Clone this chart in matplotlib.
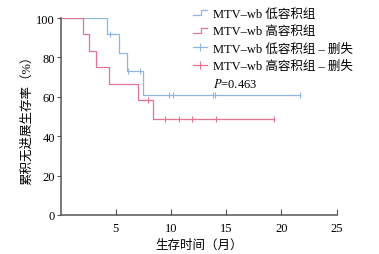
import numpy as np
import matplotlib
matplotlib.use("Agg")
import matplotlib.pyplot as plt
from matplotlib.lines import Line2D
from matplotlib.legend_handler import HandlerBase

plt.rcParams['font.family'] = ['Liberation Serif', 'Noto Sans CJK SC']
plt.rcParams['mathtext.fontset'] = 'stix'

# KM curves (months, % surviving)
low_t = [0, 4.2, 5.3, 6.0, 7.5, 21.7]
low_s = [100, 91.7, 82.5, 73.3, 61.1, 61.1]
low_cens = [4.5, 6.1, 7.2, 9.8, 10.2, 13.8, 14.0, 21.7]

high_t = [0, 2.05, 2.55, 3.2, 4.35, 7.05, 8.35, 19.3]
high_s = [100, 91.7, 83.3, 75.0, 66.7, 58.3, 48.6, 48.6]
high_cens = [7.9, 9.5, 10.7, 11.9, 14.1, 19.3]

labels = ["MTV–wb 低容积组", "MTV–wb 高容积组",
          "MTV–wb 低容积组 – 删失", "MTV–wb 高容积组 – 删失"]
p_text = "$P$=0.463"

blue = '#8fb5e3'
red = '#e5738f'
grey = '#555555'


def at(t, s, x):
    # survival value of the step curve at time x
    i = np.searchsorted(t, x, side='right') - 1
    return np.array(s)[i]


class StepHandler(HandlerBase):
    def create_artists(self, legend, orig, x0, y0, w, h, fontsize, trans):
        xm = x0 + w * 0.55
        ln = Line2D([x0, xm, xm, x0 + w], [y0 + h * 0.2, y0 + h * 0.2, y0 + h * 0.75, y0 + h * 0.75],
                    color=orig.get_color(), lw=orig.get_linewidth(), transform=trans)
        return [ln]


fig = plt.figure(figsize=(3.79, 2.55), dpi=100)
ax = fig.add_axes([0.160, 0.153, 0.728, 0.772])

ax.step(low_t, low_s, where='post', color=blue, lw=0.9)
ax.step(high_t, high_s, where='post', color=red, lw=0.9)
ax.plot(low_cens, at(low_t, low_s, low_cens), ls='none', marker='|', ms=5, mew=0.8, color=blue)
ax.plot(high_cens, at(high_t, high_s, high_cens), ls='none', marker='|', ms=5, mew=0.8, color=red)

ax.set_xlim(0, 25)
ax.set_ylim(0, 100)
ax.set_xticks([5, 10, 15, 20, 25])
ax.set_yticks([0, 20, 40, 60, 80, 100])
for side in ['top', 'right']:
    ax.spines[side].set_visible(False)
for side in ['left', 'bottom']:
    ax.spines[side].set_color(grey)
    ax.spines[side].set_linewidth(1.1)
ax.tick_params(axis='x', direction='in', length=4, width=0.8, color=grey, labelsize=9, pad=5)
ax.tick_params(axis='y', direction='out', length=3, width=0.8, color=grey, labelsize=9, pad=1)

ax.set_xlabel("生存时间（月）", fontsize=9, labelpad=3)
ax.set_ylabel("累积无进展生存率（%）", fontsize=9)
ax.yaxis.set_label_coords(-0.10, 0.5)

h1 = Line2D([], [], color=blue, lw=0.9)
h2 = Line2D([], [], color=red, lw=0.9)
h3 = Line2D([], [], color=blue, lw=0.9, marker='|', ms=6, mew=0.8)
h4 = Line2D([], [], color=red, lw=0.9, marker='|', ms=6, mew=0.8)
h5 = Line2D([], [], color='none')
fig.legend([h1, h2, h3, h4, h5], labels + [p_text],
           handler_map={h1: StepHandler(), h2: StepHandler()},
           loc='upper left', bbox_to_anchor=(193 / 379, 1 - 9 / 255),
           frameon=False, fontsize=9, borderpad=0, borderaxespad=0,
           handlelength=1.1, handletextpad=0.5, labelspacing=0.42)

fig.savefig("out.png", dpi=100)
